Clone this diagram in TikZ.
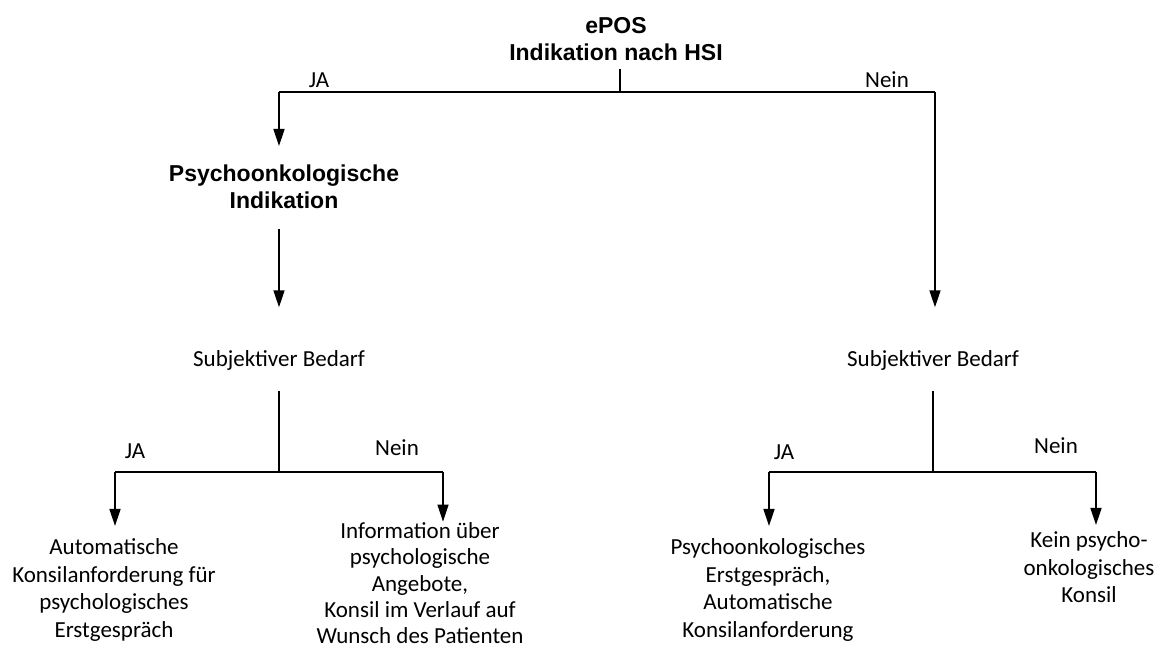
\documentclass[tikz,border=0pt]{standalone}
\usepackage{fontspec}
\setmainfont{Carlito}
\newfontfamily\headfont{Liberation Sans}
\usetikzlibrary{arrows.meta}
\begin{document}
\begin{tikzpicture}[x=0.5pt,y=-0.5pt,line width=0.75pt,
    txt/.style={align=center,inner sep=0pt,font=\fontsize{11.5}{13.8}\selectfont},
    head/.style={align=center,inner sep=0pt,font=\headfont\bfseries\fontsize{11.5}{13.4}\selectfont},
    arr/.style={-{Triangle[width=5.5pt,length=8.5pt]}}]
  \useasboundingbox (0,0) rectangle (1164,651);
  \draw
    (616,17) node[head,anchor=north] (epos){ePOS\\Indikation nach HSI}
    (284,164) node[head,anchor=north] (psy){Psychoonkologische\\Indikation}
    (279,367) node[txt,anchor=base] (bedL){Subjektiver Bedarf}
    (933,367) node[txt,anchor=base] (bedR){Subjektiver Bedarf}
    (114,538) node[txt,anchor=north] (autoL){Automatische\\Konsilanforderung für\\psychologisches\\Erstgespräch}
    (420,522) node[txt,anchor=north,font=\fontsize{11.5}{13.1}\selectfont] (info){Information über\\psychologische\\Angebote,\\Konsil im Verlauf auf\\Wunsch des Patienten}
    (768,538) node[txt,anchor=north] (erst){Psychoonkologisches\\Erstgespräch,\\Automatische\\Konsilanforderung}
    (1089,531) node[txt,anchor=north] (kein){Kein psycho-\\onkologisches\\Konsil};
  % Verzweigungspunkte
  \coordinate (j0) at (620,92);
  \coordinate (jL) at (279,92);
  \coordinate (jR) at (935,92);
  \coordinate (k0) at (279,472);
  \coordinate (kL) at (115,472);
  \coordinate (kR) at (443,472);
  \coordinate (m0) at (933,472);
  \coordinate (mL) at (769,472);
  \coordinate (mR) at (1096,472);
  % Beschriftungen
  \draw
    (319,80) node[txt] (ja1){JA}
    (887,80) node[txt] (nein1){Nein}
    (135,451) node[txt] (ja2){JA}
    (397,448) node[txt] (nein2){Nein}
    (784,452) node[txt] (ja3){JA}
    (1056,446) node[txt] (nein3){Nein};
  \begin{scope}[-]
    \draw[shorten <=3.5pt] (epos.south -| j0) -- (j0);
    \draw (jL) -- (jR);
    \draw[shorten <=9.5pt] (bedL.south -| k0) -- (k0);
    \draw (kL) -- (kR);
    \draw[shorten <=9.5pt] (bedR.south) -- (m0);
    \draw (mL) -- (mR);
  \end{scope}
  \begin{scope}[arr]
    \draw[shorten >=9pt] (jL) -- (jL |- psy.north);
    \draw[shorten <=10pt,shorten >=21.5pt] (psy.south -| jL) -- (jL |- bedL.north);
    \draw[shorten >=21.5pt] (jR) -- (bedR.north -| jR);
    \draw[shorten >=6pt] (kL) -- (kL |- autoL.north);
    \draw[shorten >=0.2pt] (kR) -- (kR |- info.north);
    \draw[shorten >=6pt] (mL) -- (mL |- erst.north);
    \draw[shorten >=3pt] (mR) -- (mR |- kein.north);
  \end{scope}
\end{tikzpicture}
\end{document}
